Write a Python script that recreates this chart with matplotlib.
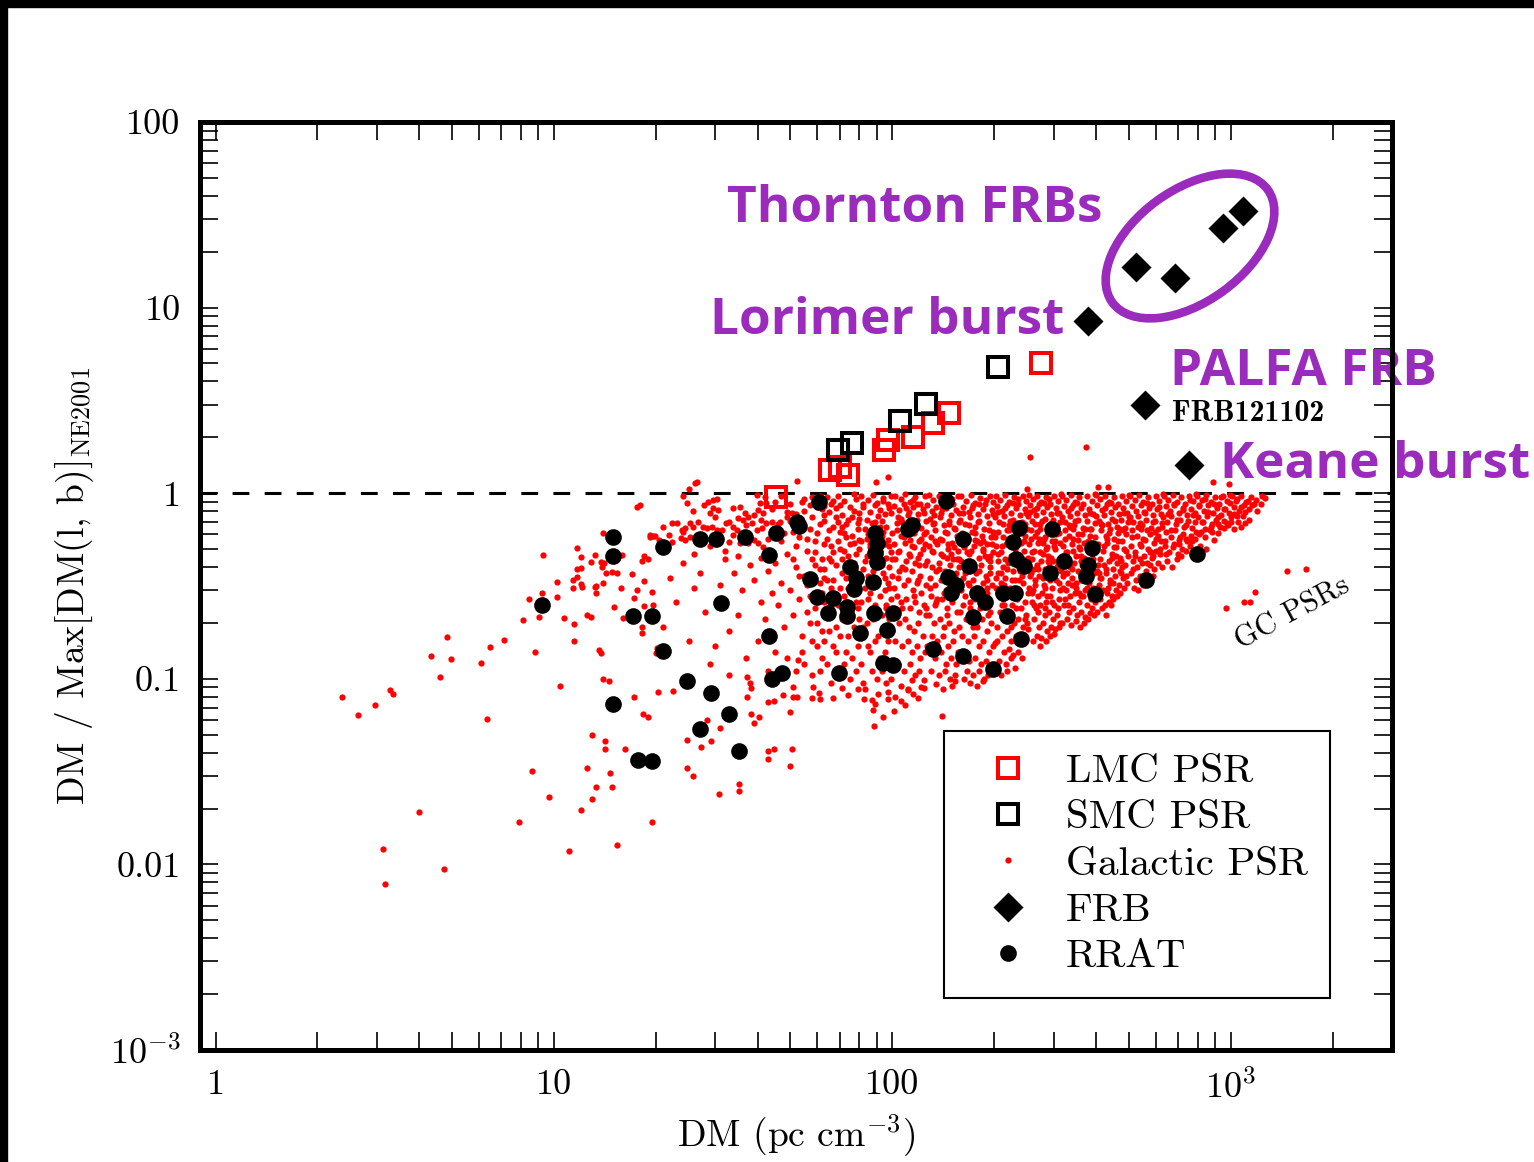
import matplotlib
matplotlib.use("Agg")
import matplotlib.pyplot as plt
from matplotlib.patches import Ellipse, Rectangle
from matplotlib.ticker import NullFormatter

plt.rcParams['font.family'] = 'serif'
plt.rcParams['font.serif'] = ['cmr10']
plt.rcParams['mathtext.fontset'] = 'cm'
plt.rcParams['axes.unicode_minus'] = False
plt.rcParams['axes.formatter.use_mathtext'] = True

# ---- data (DM in pc cm^-3, ratio = DM / Max[DM(l,b)]) ----
lmc_dm = [45.2, 65.6, 70.3, 73.8, 94.3, 96.9, 115, 131.6, 146.7, 275]
lmc_ratio = [0.95, 1.33, 1.38, 1.25, 1.71, 1.93, 2.0, 2.38, 2.70, 5.0]

smc_dm = [69.2, 76.2, 105.7, 126, 206]
smc_ratio = [1.71, 1.86, 2.44, 3.02, 4.77]

frb_names = ['Thornton', 'Thornton', 'Thornton', 'Thornton', 'Lorimer', 'FRB121102', 'Keane']
frb_dm = [525, 686, 950, 1090, 378, 558, 754]
frb_ratio = [16.5, 14.4, 27, 33, 8.45, 2.98, 1.42]

rrat_dm = [9.2, 15.0, 15.0, 17.1, 19.5, 15.0, 17.7, 19.5, 21.0, 21.0, 24.7, 27.0, 30.1, 27.0,
           29.1, 31.2, 32.9, 35.2, 36.7, 43.2, 45.4, 43.2, 44.2, 47.3, 52.4, 52.9, 60.8, 57.2,
           60.0, 66.9, 64.7, 73.6, 73.6, 69.7, 75.2, 78.3, 77.2, 87.9, 89.1, 90.3, 89.1, 90.3,
           88.5, 80.4, 96.7, 100.7, 94.1, 100.7, 111.6, 114.7, 143.7, 146.6, 153.8, 149.6, 161.3,
           169.1, 172.7, 177.5, 187.5, 131.5, 161.3, 198, 212, 230, 218, 239.6, 226.9, 236.4,
           231.6, 244.5, 296, 292, 321, 378, 373, 389, 397, 562, 796]
rrat_ratio = [0.249, 0.579, 0.458, 0.217, 0.217, 0.073, 0.0364, 0.036, 0.512, 0.141, 0.097, 0.565,
              0.565, 0.0535, 0.0836, 0.2555, 0.0645, 0.0407, 0.579, 0.463, 0.609, 0.1697, 0.0995,
              0.107, 0.698, 0.664, 0.894, 0.344, 0.275, 0.272, 0.2257, 0.243, 0.217, 0.107, 0.399,
              0.348, 0.304, 0.3316, 0.609, 0.538, 0.475, 0.425, 0.2257, 0.176, 0.183, 0.2257, 0.121,
              0.118, 0.640, 0.673, 0.906, 0.353, 0.319, 0.289, 0.565, 0.404, 0.215, 0.289, 0.259,
              0.1444, 0.132, 0.1126, 0.289, 0.289, 0.217, 0.1634, 0.545, 0.648, 0.441, 0.404, 0.640,
              0.371, 0.430, 0.409, 0.357, 0.506, 0.286, 0.340, 0.469]

# galactic pulsars, sparse low-DM part
gal_left = [(2.37,0.080),(2.64,0.064),(2.96,0.072),(3.28,0.087),(3.35,0.083),(4.34,0.132),(4.62,0.102),
    (4.84,0.168),(4.95,0.128),(6.11,0.121),(6.49,0.148),(7.10,0.161),(6.36,0.061),(8.08,0.207),(8.47,0.269),
    (8.77,0.139),(9.01,0.215),(9.2,0.289),(9.27,0.463),(10.2,0.332),(10.2,0.275),(10.4,0.091),(10.7,0.212),
    (11.4,0.308),(11.4,0.340),(11.7,0.353),(11.7,0.390),(12.0,0.394),(11.7,0.506),(12.0,0.452),(12.0,0.323),
    (12.1,0.312),(11.5,0.197),(11.5,0.160),(12.5,0.220),(12.9,0.215),(12.9,0.425),(13.2,0.463),(13.2,0.312),
    (13.3,0.315),(13.3,0.289),(13.6,0.143),(13.8,0.137),(14.0,0.609),(13.8,0.425),(13.9,0.399),(14.1,0.420),
    (14.3,0.371),(14.0,0.327),(14.0,0.100),(14.5,0.097),(14.9,0.375),(15.4,0.371),(15.1,0.243),(15.8,0.308),
    (15.9,0.463),(16.0,0.212),(17.0,0.366),(17.3,0.272),(17.6,0.300),(18.2,0.430),(18.4,0.458),(18.4,0.336),
    (19.5,0.293),(19.6,0.249),(18.4,0.246),(18.2,0.190),(18.2,0.176),(19.2,0.594),(19.6,0.587),(20.2,0.146),
    (20.0,0.137),(20.3,0.085),(17.2,0.080),(18.3,0.065),(19.0,0.062),(13.0,0.050),(14.2,0.046),(14.2,0.042),
    (16.2,0.042),(8.59,0.032),(12.5,0.033),(14.6,0.031),(13.3,0.026),(14.8,0.026),(9.65,0.023),(13.0,0.0225),
    (12.0,0.0196),(4.0,0.0191),(7.91,0.0169),(19.5,0.0169),(3.13,0.0121),(11.1,0.0118),(15.4,0.0127),
    (4.72,0.0094),(3.17,0.0078),
    (22.5,0.086),(24.7,0.047),(27.2,0.043),(29.1,0.046),(31.0,0.054),(28.4,0.060),(37.2,0.080),(38.3,0.065),
    (40.4,0.062),(39.1,0.058),(43.0,0.075),(44.6,0.076),(47.6,0.082),(50.9,0.080),(50.0,0.066),(37.1,0.102),
    (38.3,0.089),(35.2,0.027),(35.2,0.025),(30.8,0.024),(24.7,0.033),(25.8,0.030),(43.0,0.041),(44.6,0.042),
    (43.0,0.037),(50.6,0.042),(50.0,0.034)]

# galactic pulsars, DM 17-63
gal_mid = [(26.1,1.13),(17.6,0.841),(18.0,0.862),(24.1,0.963),(24.7,0.883),(25.8,0.80),(27.8,0.862),
    (28.5,0.894),(29.5,0.917),(30.3,0.928),(29.5,0.83),(30.6,0.81),(28.9,0.78),(29.9,0.743),(33.8,0.83),
    (35.4,0.84),(36.7,0.78),(37.4,0.743),(35.0,0.733),(36.2,0.715),(39.8,0.975),(40.6,0.883),(40.1,0.81),
    (41.5,0.78),(38.9,0.761),(42.4,0.883),(22.3,0.689),(23.1,0.689),(23.9,0.632),(24.4,0.648),(25.3,0.689),
    (25.8,0.656),(26.7,0.698),(27.5,0.656),(28.4,0.648),(29.3,0.656),(30.3,0.632),(31.3,0.632),(32.3,0.689),
    (33.0,0.698),(33.8,0.656),(34.8,0.632),(36.9,0.672),(38.6,0.689),(39.8,0.632),(41.2,0.648),(42.4,0.689),
    (44.0,0.698),(46.5,0.698),(48.8,0.743),(50.4,0.78),(19.2,0.579),(19.9,0.587),(20.5,0.558),(21.9,0.594),
    (22.3,0.545),(23.7,0.572),(24.4,0.558),(25.3,0.579),(26.5,0.594),(33.0,0.545),(33.8,0.594),(35.4,0.538),
    (37.4,0.538),(38.9,0.558),(40.1,0.538),(41.5,0.512),
    (41,0.45),(43,0.38),(45,0.42),(47,0.33),(49,0.47),(52,0.40),(55,0.36),(58,0.44),(61,0.39),(44,0.29),
    (46,0.25),(50,0.30),(53,0.27),(56,0.32),(59,0.24),(62,0.29),(42,0.21),(48,0.19),(51,0.22),(54,0.17),
    (57,0.20),(60,0.15),(40,0.16),(45,0.14),(49,0.13),(55,0.12),(62,0.13),(43,0.11),(58,0.105),(52,0.52),
    (56,0.57),(60,0.61),(63,0.53),(47,0.55),(54,0.66),(58,0.74),(62,0.82),(50,0.88),(55,0.93),(61,0.97),
    (44,0.82),(57,0.86),(53,0.71),(59,0.48),(63,0.35),(41,0.26),(39,0.34),(38,0.41),(36,0.30),(34,0.37),
    (32,0.44),(31,0.32),(35,0.22),(33,0.18),(37,0.13),(30,0.15),(28,0.23),(27,0.37),(26,0.31),(24,0.42),
    (23,0.26),(22,0.35),(21,0.19),(25,0.16),(29,0.12),(33,0.105),(38,0.095),(26,0.47),(29,0.52),(32,0.49),
    (35,0.46),(24,0.62),(21,0.66),(19,0.44),
    (51,0.62),(53,0.58),(56,0.49),(59,0.55),(61,0.68),(63,0.76),(52,0.77),(57,0.64),(60,0.84),(54,0.90),
    (58,0.95),(62,0.91),(50,0.71),(55,0.80),(59,0.41),(61,0.33),(63,0.26),(56,0.23),(53,0.36),(51,0.44),
    (48,0.61),(46,0.68),(43,0.57),(41,0.72),(45,0.90),(42,0.95),(49,0.79),(47,0.96),(57,0.28),(60,0.20),
    (62,0.18),(54,0.14),(58,0.16),(52,0.11),(61,0.11),
    (60.8,0.084),(58.4,0.090),(58.0,0.079),(61.2,0.078),(52.4,0.080),(50.9,0.090),(52.8,0.126)]

# galactic pulsars, dense DM 63-1300 core
gal_core = [(64,0.95),(66,0.88),(69,0.97),(72,0.91),(75,0.84),(78,0.93),(65,0.79),(68,0.83),(71,0.76),
    (74,0.72),(77,0.80),(79,0.69),(63,0.71),(67,0.66),(70,0.62),(73,0.68),(76,0.59),(64,0.57),(66,0.52),
    (69,0.55),(72,0.49),(75,0.53),(78,0.47),(80,0.56),(65,0.45),(68,0.41),(71,0.44),(74,0.38),(77,0.42),
    (79,0.36),(63,0.39),(67,0.34),(70,0.31),(73,0.35),(76,0.29),(64,0.27),(66,0.31),(69,0.25),(72,0.28),
    (75,0.23),(78,0.26),(80,0.21),(65,0.22),(68,0.19),(71,0.21),(74,0.17),(77,0.19),(63,0.16),(67,0.15),
    (70,0.17),(73,0.14),(76,0.13),(79,0.15),(64,0.12),(69,0.11),(72,0.12),(75,0.10),(78,0.11),(66,0.095),
    (71,0.089),(74,0.082),(68,0.14),(79,0.64),(76,0.74),(70,0.86),(65,0.63),(73,0.58),(67,0.48),(62,0.44),
    (78,0.33),(71,0.37),(66,0.24),(74,0.46),(69,0.70),(77,0.99),(63,0.85),(80,0.78),(72,0.61),(67,0.91),
    (75,0.40),(64,0.34),(70,0.50),(73,0.26),(68,0.74),(77,0.54),(79,0.24),(66,0.43),(71,0.66),(74,0.31),
    (65,0.18),(66.9,0.079),
    (81,0.96),(85,0.92),(88,0.98),(90,0.89),(94,0.94),(97,0.87),(99,0.97),(82,0.84),(86,0.79),(89,0.86),
    (92,0.81),(95,0.77),(98,0.83),(80,0.73),(87,0.69),(91,0.75),(93,0.71),(96,0.66),(84,0.72),(83,0.64),
    (85,0.60),(89,0.63),(91,0.58),(94,0.62),(97,0.56),(100,0.61),(81,0.55),(86,0.51),(88,0.54),(92,0.49),
    (95,0.53),(99,0.48),(84,0.46),(87,0.43),(90,0.47),(93,0.41),(96,0.45),(98,0.40),(82,0.39),(85,0.36),
    (88,0.38),(91,0.34),(94,0.37),(97,0.33),(100,0.36),(83,0.31),(86,0.29),(90,0.32),(92,0.28),(95,0.30),
    (99,0.27),(81,0.26),(87,0.24),(89,0.25),(93,0.22),(96,0.24),(98,0.21),(84,0.20),(82,0.19),(88,0.21),
    (91,0.17),(94,0.19),(97,0.16),(100,0.18),(85,0.15),(86,0.14),(89,0.16),(92,0.13),(95,0.14),(98,0.12),
    (81,0.12),(87,0.11),(90,0.10),(93,0.11),(96,0.095),(99,0.10),(83,0.088),(91,0.083),(97,0.078),(88,0.068),
    (94,0.062),(84,0.57),(92,0.66),(98,0.52),(82,0.88),(90,0.42),(95,0.35),(100,0.44),(87,0.33),(93,0.59),
    (99,0.78),(80,0.50),(94,0.91),(89,0.70),(83,0.43),(96,0.25),(91,0.46),(85,0.27),(98,0.31),(86,0.53),
    (82.1,0.095),(79.4,0.088),(82.6,0.078),(87.3,0.077),(89.0,0.073),(88.5,0.056),(97.4,0.085),
    (102,0.080),(106,0.076),(101,0.067),(111.6,0.087),(114.7,0.098),(123.7,0.089),(139.8,0.063),
    (152.8,0.097),(162.4,0.100),
    (102,0.97),(106,0.93),(109,0.99),(113,0.90),(117,0.95),(121,0.88),(125,0.96),(101,0.85),(105,0.81),
    (108,0.87),(112,0.79),(115,0.84),(119,0.77),(123,0.82),(104,0.74),(107,0.70),(111,0.76),(114,0.67),
    (118,0.72),(122,0.65),(126,0.71),(103,0.63),(106,0.59),(110,0.64),(113,0.56),(116,0.61),(120,0.55),
    (124,0.60),(101,0.53),(105,0.49),(109,0.54),(112,0.47),(116,0.51),(119,0.45),(123,0.50),(102,0.44),
    (107,0.40),(110,0.43),(114,0.38),(117,0.42),(121,0.36),(125,0.41),(104,0.35),(108,0.32),(111,0.34),
    (115,0.30),(118,0.33),(122,0.29),(126,0.32),(103,0.28),(106,0.26),(110,0.27),(113,0.24),(117,0.26),
    (120,0.23),(124,0.25),(101,0.22),(105,0.20),(109,0.21),(112,0.19),(116,0.18),(119,0.20),(123,0.17),
    (102,0.16),(107,0.15),(111,0.16),(114,0.14),(118,0.15),(121,0.13),(125,0.14),(104,0.12),(108,0.11),
    (113,0.12),(117,0.105),(120,0.11),(124,0.098),(106,0.092),(111,0.088),(115,0.083),(122,0.09),(109,0.072),
    (119,0.079),(103,0.69),(115,0.92),(108,0.58),(121,0.47),(105,0.38),(117,0.63),(124,0.78),(110,0.83),
    (113,0.46),(101,0.31),(119,0.34),(107,0.24),(125,0.53),(112,0.69),(104,0.48),(116,0.28),(122,0.57),
    (109,0.39),(118,0.87),(106,0.73),(114,0.52),(120,0.41),(126,0.22),
    (128,0.98),(132,0.92),(137,0.96),(141,0.89),(146,0.94),(151,0.87),(156,0.97),(127,0.86),(131,0.80),
    (135,0.84),(139,0.78),(144,0.83),(149,0.76),(154,0.81),(129,0.73),(133,0.69),(138,0.74),(142,0.67),
    (147,0.71),(152,0.65),(157,0.70),(126,0.62),(130,0.58),(134,0.63),(140,0.56),(145,0.61),(150,0.54),
    (155,0.59),(128,0.52),(132,0.48),(136,0.53),(141,0.46),(146,0.50),(151,0.44),(156,0.49),(127,0.43),
    (131,0.40),(137,0.42),(143,0.38),(148,0.41),(153,0.36),(158,0.40),(129,0.35),(134,0.32),(139,0.34),
    (144,0.30),(149,0.33),(154,0.29),(130,0.28),(135,0.26),(140,0.27),(145,0.24),(150,0.26),(155,0.23),
    (128,0.22),(133,0.20),(138,0.21),(142,0.19),(147,0.20),(152,0.18),(157,0.19),(131,0.17),(136,0.16),
    (141,0.17),(146,0.15),(151,0.16),(156,0.14),(127,0.15),(134,0.13),(139,0.14),(144,0.12),(149,0.13),
    (154,0.12),(130,0.11),(137,0.105),(143,0.11),(148,0.10),(153,0.105),(135,0.094),(141,0.088),(150,0.091),
    (132,0.68),(143,0.90),(138,0.57),(149,0.47),(135,0.38),(153,0.64),(157,0.78),(140,0.82),(145,0.45),
    (129,0.31),(152,0.34),(134,0.25),(158,0.55),(147,0.68),(131,0.49),(142,0.29),(155,0.44),(137,0.39),
    (150,0.93),(133,0.76),(146,0.53),(154,0.37),(126,0.24),
    (160,0.96),(165,0.91),(171,0.98),(176,0.89),(182,0.94),(188,0.87),(194,0.97),(199,0.90),(162,0.84),
    (168,0.79),(173,0.86),(179,0.77),(185,0.82),(191,0.75),(197,0.81),(159,0.72),(164,0.68),(170,0.74),
    (175,0.66),(181,0.71),(187,0.64),(193,0.69),(198,0.62),(161,0.61),(167,0.57),(172,0.62),(178,0.55),
    (184,0.59),(190,0.53),(196,0.58),(163,0.51),(169,0.47),(174,0.52),(180,0.45),(186,0.49),(192,0.44),
    (199,0.48),(160,0.43),(166,0.39),(171,0.42),(177,0.37),(183,0.41),(189,0.36),(195,0.40),(162,0.35),
    (168,0.32),(173,0.34),(179,0.30),(185,0.33),(191,0.29),(197,0.32),(164,0.28),(170,0.26),(176,0.27),
    (182,0.24),(188,0.26),(194,0.23),(159,0.23),(165,0.21),(172,0.22),(178,0.19),(184,0.21),(190,0.18),
    (196,0.20),(161,0.17),(167,0.16),(174,0.17),(180,0.15),(186,0.16),(193,0.14),(199,0.15),(163,0.13),
    (169,0.125),(176,0.13),(183,0.12),(189,0.125),(195,0.115),(166,0.11),(173,0.105),(181,0.11),(187,0.10),
    (192,0.105),(170,0.095),(178,0.092),(185,0.097),(168,0.67),(181,0.88),(175,0.56),(188,0.46),(164,0.37),
    (193,0.63),(198,0.77),(172,0.83),(185,0.50),(160,0.30),(191,0.34),(170,0.24),(197,0.53),(179,0.70),
    (166,0.48),(184,0.28),(195,0.43),(174,0.39),(189,0.92),(162,0.78),(182,0.54),(194,0.37),(177,0.20),
    (202,0.97),(208,0.92),(215,0.98),(222,0.90),(229,0.95),(236,0.88),(243,0.96),(249,0.91),(204,0.85),
    (211,0.80),(218,0.86),(225,0.78),(232,0.83),(239,0.76),(246,0.82),(201,0.74),(207,0.70),(214,0.75),
    (221,0.67),(228,0.72),(235,0.65),(242,0.70),(250,0.64),(205,0.62),(212,0.58),(219,0.63),(226,0.56),
    (233,0.60),(240,0.54),(247,0.59),(203,0.52),(210,0.48),(217,0.53),(224,0.46),(231,0.50),(238,0.44),
    (245,0.49),(206,0.43),(213,0.40),(220,0.42),(227,0.38),(234,0.41),(241,0.36),(248,0.40),(202,0.35),
    (209,0.33),(216,0.35),(223,0.31),(230,0.34),(237,0.30),(244,0.33),(251,0.29),(205,0.29),(212,0.27),
    (219,0.28),(226,0.25),(233,0.27),(240,0.24),(247,0.26),(208,0.23),(215,0.21),(222,0.22),(229,0.20),
    (236,0.21),(243,0.19),(250,0.20),(204,0.19),(211,0.17),(218,0.18),(225,0.16),(232,0.17),(239,0.155),
    (246,0.165),(201,0.155),(214,0.14),(221,0.145),(228,0.135),(235,0.14),(242,0.13),(207,0.125),(217,0.12),
    (224,0.13),(231,0.115),(210,0.105),(219,0.11),(213,0.68),(227,0.89),(220,0.57),(234,0.47),(209,0.37),
    (241,0.64),(248,0.78),(216,0.83),(230,0.51),(203,0.31),(237,0.34),(211,0.25),(245,0.55),(223,0.71),
    (206,0.47),(228,0.28),(244,0.44),(218,0.39),(236,0.93),(205,0.79),(225,0.54),(239,0.38),(249,0.22),
    (232,0.24),(214,0.32),
    (253,0.98),(260,0.93),(268,0.97),(276,0.90),(284,0.95),(292,0.88),(300,0.96),(309,0.91),(315,0.99),
    (255,0.86),(263,0.81),(271,0.87),(279,0.79),(287,0.84),(295,0.77),(304,0.83),(312,0.78),(252,0.75),
    (258,0.71),(266,0.76),(274,0.68),(282,0.73),(290,0.66),(298,0.72),(307,0.65),(314,0.70),(257,0.63),
    (265,0.59),(273,0.64),(281,0.57),(289,0.61),(297,0.55),(305,0.60),(313,0.54),(254,0.53),(262,0.49),
    (270,0.54),(278,0.47),(286,0.51),(294,0.45),(302,0.50),(310,0.44),(259,0.44),(267,0.41),(275,0.43),
    (283,0.39),(291,0.42),(299,0.37),(308,0.41),(316,0.38),(256,0.36),(264,0.34),(272,0.36),(280,0.32),
    (288,0.35),(296,0.31),(305,0.34),(313,0.30),(261,0.30),(269,0.28),(277,0.29),(285,0.26),(293,0.28),
    (301,0.25),(310,0.27),(258,0.26),(266,0.24),(274,0.25),(282,0.22),(290,0.23),(298,0.21),(306,0.22),
    (314,0.20),(263,0.21),(271,0.19),(279,0.20),(287,0.18),(295,0.19),(303,0.185),(252,0.185),(268,0.17),
    (276,0.165),(284,0.16),(292,0.17),(260,0.16),(273,0.15),(300,0.175),(311,0.19),(265,0.68),(280,0.89),
    (272,0.57),(288,0.46),(257,0.37),(296,0.64),(306,0.78),(268,0.83),(284,0.50),(254,0.31),(293,0.34),
    (262,0.25),(302,0.55),(277,0.71),(259,0.48),(286,0.28),(299,0.43),(270,0.39),(291,0.93),(256,0.79),
    (279,0.54),(297,0.38),(309,0.24),(283,0.24),(264,0.32),
    (318,0.97),(327,0.92),(337,0.98),(347,0.90),(357,0.95),(367,0.88),(377,0.96),(388,0.91),(396,0.99),
    (321,0.85),(331,0.80),(341,0.86),(351,0.78),(361,0.83),(371,0.76),(382,0.82),(393,0.77),(317,0.74),
    (325,0.70),(335,0.75),(345,0.67),(355,0.72),(365,0.65),(375,0.71),(386,0.64),(397,0.69),(323,0.63),
    (333,0.59),(343,0.64),(353,0.56),(363,0.60),(373,0.54),(384,0.59),(394,0.53),(319,0.52),(329,0.48),
    (339,0.53),(349,0.46),(359,0.50),(369,0.45),(380,0.49),(391,0.44),(324,0.43),(334,0.40),(344,0.42),
    (354,0.38),(364,0.41),(374,0.36),(385,0.40),(395,0.37),(320,0.36),(330,0.33),(340,0.35),(350,0.31),
    (360,0.34),(370,0.30),(381,0.33),(392,0.30),(326,0.30),(336,0.28),(346,0.29),(356,0.26),(366,0.28),
    (376,0.25),(387,0.27),(398,0.26),(322,0.25),(332,0.23),(342,0.24),(352,0.22),(362,0.23),(372,0.215),
    (383,0.225),(394,0.22),(328,0.21),(338,0.195),(348,0.205),(358,0.19),(368,0.20),(378,0.21),(318,0.20),
    (389,0.24),(332,0.67),(352,0.89),(342,0.57),(362,0.46),(325,0.37),(372,0.64),(384,0.78),(337,0.83),
    (357,0.51),(320,0.31),(367,0.34),(330,0.25),(379,0.55),(347,0.71),(327,0.48),(360,0.28),(377,0.43),
    (340,0.39),
    (400,0.98),(412,0.93),(425,0.97),(438,0.90),(451,0.95),(464,0.88),(477,0.96),(490,0.91),(499,0.98),
    (404,0.86),(417,0.81),(430,0.87),(443,0.79),(456,0.84),(469,0.77),(482,0.83),(495,0.78),(401,0.75),
    (408,0.71),(421,0.76),(434,0.68),(447,0.73),(460,0.66),(473,0.72),(486,0.65),(498,0.70),(414,0.63),
    (427,0.59),(440,0.64),(453,0.57),(466,0.61),(479,0.55),(492,0.60),(406,0.53),(419,0.49),(432,0.54),
    (445,0.47),(458,0.51),(471,0.45),(484,0.50),(497,0.46),(410,0.44),(423,0.41),(436,0.43),(449,0.39),
    (462,0.42),(475,0.37),(488,0.41),(402,0.38),(415,0.35),(428,0.37),(441,0.33),(454,0.36),(467,0.32),
    (480,0.35),(493,0.33),(407,0.32),(420,0.30),(433,0.31),(446,0.28),(459,0.30),(472,0.29),(485,0.31),
    (411,0.27),(424,0.25),(437,0.26),(450,0.27),(463,0.28),(403,0.23),(416,0.24),(429,0.22),(442,0.25),
    (418,0.67),(444,0.89),(431,0.57),(457,0.46),(409,0.37),(470,0.64),(483,0.78),(426,0.83),(452,0.51),
    (439,0.34),(478,0.40),
    (505,0.97),(520,0.92),(536,0.98),(552,0.90),(568,0.95),(584,0.88),(600,0.96),(616,0.91),(629,0.99),
    (510,0.85),(526,0.80),(542,0.86),(558,0.78),(574,0.83),(590,0.76),(606,0.82),(622,0.77),(503,0.74),
    (516,0.70),(532,0.75),(548,0.67),(564,0.72),(580,0.65),(596,0.71),(612,0.64),(627,0.69),(512,0.63),
    (528,0.59),(544,0.64),(560,0.56),(576,0.60),(592,0.54),(608,0.59),(624,0.55),(507,0.52),(523,0.48),
    (539,0.53),(555,0.46),(571,0.50),(587,0.45),(603,0.49),(619,0.47),(514,0.43),(530,0.40),(546,0.42),
    (562,0.38),(578,0.41),(594,0.39),(610,0.42),(625,0.40),(509,0.37),(525,0.34),(541,0.36),(557,0.33),
    (573,0.35),(589,0.36),(518,0.31),(534,0.30),(550,0.32),(538,0.69),(566,0.89),(551,0.57),(582,0.48),
    (598,0.62),
    (636,0.97),(655,0.92),(675,0.98),(695,0.90),(715,0.95),(735,0.88),(755,0.96),(775,0.91),(790,0.99),
    (642,0.85),(662,0.80),(682,0.86),(702,0.78),(722,0.83),(742,0.76),(762,0.82),(782,0.78),(633,0.74),
    (650,0.70),(668,0.75),(688,0.68),(708,0.72),(728,0.66),(748,0.71),(768,0.65),(787,0.70),(645,0.62),
    (665,0.58),(685,0.63),(705,0.56),(725,0.60),(745,0.55),(765,0.59),(785,0.57),(639,0.52),(659,0.48),
    (679,0.53),(699,0.47),(719,0.50),(739,0.49),(759,0.52),(648,0.43),(671,0.40),(692,0.44),(712,0.46),
    (798,0.97),(822,0.92),(848,0.98),(874,0.90),(900,0.95),(926,0.88),(952,0.96),(978,0.91),(996,0.98),
    (806,0.85),(832,0.80),(858,0.86),(884,0.78),(910,0.83),(936,0.76),(962,0.82),(988,0.78),(802,0.74),
    (828,0.70),(854,0.75),(880,0.68),(906,0.72),(932,0.66),(958,0.71),(984,0.67),(815,0.62),(841,0.58),
    (867,0.63),(893,0.56),(919,0.61),(812,0.52),(845,0.50),
    (1010,0.96),(1040,0.91),(1075,0.97),(1110,0.90),(1150,0.95),(1190,0.92),(1235,0.96),(1025,0.84),
    (1060,0.80),(1095,0.86),(1135,0.82),(1175,0.87),(1005,0.74),(1050,0.70),(1090,0.75),(1130,0.72),
    (1020,0.64),(1070,0.66),(1265,0.94)]

# extra points where the core is packed solid
gal_dense = [(134,0.55),(139,0.47),(143,0.62),(148,0.36),(152,0.51),(157,0.44),(163,0.58),(167,0.33),
    (171,0.49),(176,0.61),(181,0.38),(186,0.55),(190,0.31),(195,0.46),(201,0.58),(206,0.37),(211,0.52),
    (216,0.44),(221,0.63),(226,0.34),(231,0.47),(236,0.56),(241,0.41),(246,0.68),(252,0.45),(257,0.57),
    (262,0.39),(267,0.62),(273,0.48),(278,0.35),(283,0.58),(289,0.43),(294,0.69),(300,0.52),(306,0.40),
    (311,0.61),(317,0.46),(323,0.57),(329,0.37),(336,0.66),(342,0.49),(349,0.33),(355,0.60),(362,0.43),
    (369,0.54),(376,0.31),(383,0.64),(390,0.47),(397,0.58),(405,0.41),(413,0.68),(421,0.52),(429,0.39),
    (437,0.61),(446,0.45),(455,0.71),(464,0.55),(473,0.43),(482,0.63),(492,0.49),(502,0.74),(512,0.58),
    (522,0.46),(533,0.66),(544,0.52),(555,0.79),(566,0.63),(578,0.48),(590,0.70),(602,0.57),(614,0.84),
    (627,0.66),(640,0.55),(653,0.77),(667,0.63),(681,0.88),(695,0.72),(710,0.58),(725,0.81),(740,0.67),
    (756,0.92),(772,0.76),(788,0.62),(805,0.86),(822,0.70),(840,0.93),(858,0.79),(876,0.66),(895,0.87),
    (915,0.74),(935,0.95),(955,0.82),(976,0.69),(998,0.89),(1020,0.77),(1045,0.93),(1070,0.84),
    (1100,0.79),(1125,0.91),(1160,0.86),(1200,0.80),(1230,0.88),
    (136,0.27),(145,0.22),(154,0.31),(162,0.25),(173,0.19),(183,0.27),(192,0.22),(204,0.16),(214,0.25),
    (224,0.19),(235,0.28),(246,0.21),(258,0.29),(270,0.23),(282,0.31),(296,0.26),(310,0.33),(325,0.27),
    (340,0.32),(357,0.29),(374,0.35),(392,0.31),(410,0.35),(430,0.29),(450,0.33),(470,0.38),(492,0.36),
    (515,0.39),(540,0.44),(565,0.42),(590,0.46),(618,0.50),(645,0.47),(675,0.51),(705,0.53),(738,0.57),
    (770,0.55),(805,0.60),(840,0.64),(878,0.62),(915,0.68),(955,0.65),(1000,0.70),(1045,0.75),(1100,0.69)]

# galactic pulsars above the Max[DM] line, and globular cluster pulsars
gal_high = [(373,1.77),(256,1.56),(250,1.05),(405,1.08),(434,1.08),(888,1.15),(988,1.12),(26.5,1.15),
    (25.1,1.06),(52.4,1.16),(89.6,1.15),(97.4,1.22)]
gal_gc = [(1470,0.38),(1674,0.39),(1183,0.293),(1097,0.259),(1143,0.259),(971,0.24)]

galactic = gal_left + gal_mid + gal_core + gal_dense + gal_high + gal_gc
gal_dm = [p[0] for p in galactic]
gal_ratio = [p[1] for p in galactic]

x_ticks = [1, 10, 100, 1000]
x_ticklabels = ['1', '10', '100', r'$10^3$']
y_ticks = [1e-3, 1e-2, 1e-1, 1, 10, 100]
y_ticklabels = [r'$10^{-3}$', '0.01', '0.1', '1', '10', '100']

purple = '#9B2BBD'

fig = plt.figure(figsize=(15.34, 11.62), dpi=100)
ax = fig.add_axes([0.1304, 0.0964, 0.7771, 0.7986])

h_gal, = ax.plot(gal_dm, gal_ratio, 'o', color='red', ms=4.5, mec='none', zorder=2, label='Galactic PSR')
h_lmc, = ax.plot(lmc_dm, lmc_ratio, 's', ms=14, mfc='none', mec='red', mew=2.9, zorder=3, label='LMC PSR')
h_smc, = ax.plot(smc_dm, smc_ratio, 's', ms=14, mfc='none', mec='black', mew=2.9, zorder=4, label='SMC PSR')
h_rrat, = ax.plot(rrat_dm, rrat_ratio, 'o', color='black', ms=12, mec='none', zorder=4, label='RRAT')
h_frb, = ax.plot(frb_dm, frb_ratio, 'D', color='black', ms=15, mec='none', zorder=5, label='FRB')

ax.axhline(1, color='black', lw=2.2, ls=(0, (5.5, 5)), zorder=1)

ax.set_xscale('log')
ax.set_yscale('log')
ax.set_xlim(0.9, 3000)
ax.set_ylim(1e-3, 100)
ax.set_xticks(x_ticks, labels=x_ticklabels)
ax.set_yticks(y_ticks, labels=y_ticklabels)
ax.xaxis.set_minor_formatter(NullFormatter())
ax.yaxis.set_minor_formatter(NullFormatter())
ax.tick_params(which='both', direction='in', top=True, right=True, length=13, width=1.2,
               labelsize=26, pad=14)
for s in ax.spines.values():
    s.set_linewidth(3.6)

ax.set_xlabel(r'DM (pc cm$^{-3}$)', fontsize=27, labelpad=6)
ax.set_ylabel(r'DM / Max[DM(l, b)]$_{\rm NE2001}$', fontsize=27, labelpad=10)

leg = ax.legend(handles=[h_lmc, h_smc, h_gal, h_frb, h_rrat], loc='upper left',
                bbox_to_anchor=(0.624, 0.344), fontsize=29.5, numpoints=1, frameon=True,
                fancybox=False, framealpha=1, edgecolor='black', borderpad=0.55,
                handlelength=2.02, handletextpad=0.4, labelspacing=0.235, borderaxespad=0)
leg.get_frame().set_linewidth(1.5)

# annotations
ann = dict(color=purple, fontsize=37, fontweight='bold', family='Open Sans', transform=ax.transAxes,
           ha='left', va='baseline', clip_on=False, zorder=2)
ax.text(0.4421, 0.8922, 'Thornton FRBs', **ann)
ax.text(0.4279, 0.7716, 'Lorimer burst', **ann)
ax.text(0.8138, 0.7166, 'PALFA FRB', **ann)
ax.text(0.8557, 0.6164, 'Keane burst', **ann)
ax.text(0.8154, 0.6778, 'FRB121102', fontsize=21.5, family='cmb10', transform=ax.transAxes,
        ha='left', va='baseline')
ax.text(0.9161, 0.4709, 'GC PSRs', fontsize=21.5, rotation=28, transform=ax.transAxes,
        ha='center', va='center')

ell = Ellipse((11.90, 9.16), 1.92, 1.12, angle=36, fill=False, ec=purple, lw=6.2,
              transform=fig.dpi_scale_trans, clip_on=False, zorder=6)
ax.add_patch(ell)

# black frame strips at the top and left edge of the picture
fig.patches.append(Rectangle((0, 1 - 7 / 1162), 1, 7 / 1162, transform=fig.transFigure,
                             color='black', zorder=10))
fig.patches.append(Rectangle((0, 0), 7 / 1534, 1, transform=fig.transFigure,
                             color='black', zorder=10))

fig.savefig('out.png', dpi=100)
